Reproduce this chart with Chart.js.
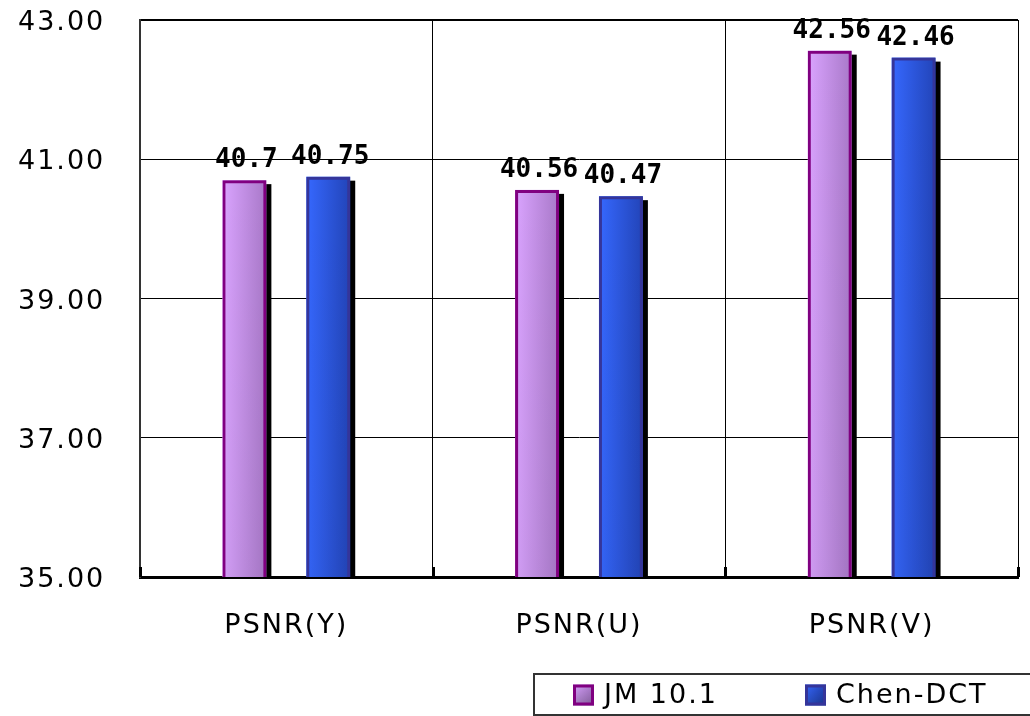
<!DOCTYPE html>
<html>
<head>
<meta charset="utf-8">
<script src="https://cdn.jsdelivr.net/npm/chart.js@4.4.1/dist/chart.umd.min.js"></script>
<style>
  html, body { margin: 0; padding: 0; background: #fff; }
  #wrap { width: 1030px; height: 716px; }
</style>
</head>
<body>
<div id="wrap"><canvas id="psnr" width="1030" height="716"></canvas></div>
<script>
// PSNR comparison: JM 10.1 reference encoder vs. Chen-DCT
const categories = ['PSNR(Y)', 'PSNR(U)', 'PSNR(V)'];
const seriesNames = ['JM 10.1', 'Chen-DCT'];
const jmValues = [40.7, 40.56, 42.56];
const chenValues = [40.75, 40.47, 42.46];
const yTickValues = [35, 37, 39, 41, 43];

// per-series look: light / dark end of the fill gradient, plus outline colour
const seriesStyles = [
  { light: '#daa4ff', dark: '#a878c8', border: '#800080' },
  { light: '#3668ff', dark: '#2244b8', border: '#35359a' }
];

const FONT = 'DejaVu Sans';

function fillGradient(ctx, left, top, width, height, style) {
  const h = ctx.createLinearGradient(left, 0, left + width, 0);
  h.addColorStop(0, style.light);
  h.addColorStop(1, style.dark);
  ctx.fillStyle = h;
  ctx.fillRect(left, top, width, height);
  const v = ctx.createLinearGradient(0, top, 0, top + height);
  v.addColorStop(0, 'rgba(0,0,0,0)');
  v.addColorStop(1, 'rgba(0,0,0,0.26)');
  ctx.fillStyle = v;
  ctx.fillRect(left, top, width, height);
}

// spaced-out lettering used by the axis text and legend
const letterSpacingPlugin = {
  id: 'letterSpacing',
  beforeUpdate(chart) { chart.ctx.letterSpacing = '2px'; },
  beforeDraw(chart) { chart.ctx.letterSpacing = '2px'; }
};

// drop shadow and shaded fill behind every bar; the bar element draws its outline on top
const barShading = {
  id: 'barShading',
  beforeDatasetsDraw(chart) {
    const ctx = chart.ctx;
    const area = chart.chartArea;
    ctx.save();
    ctx.beginPath();
    ctx.rect(area.left, area.top, area.right - area.left + 8, area.bottom - area.top);
    ctx.clip();
    chart.data.datasets.forEach((ds, di) => {
      const meta = chart.getDatasetMeta(di);
      const style = seriesStyles[di];
      meta.data.forEach(el => {
        const { x, y, base, width } = el.getProps(['x', 'y', 'base', 'width'], true);
        const left = x - width / 2;
        ctx.fillStyle = '#000';
        ctx.fillRect(left + 5, y + 4, width, base - y - 4);
        fillGradient(ctx, left, y, width, base - y, style);
      });
    });
    ctx.restore();
  },
  afterDatasetsDraw(chart) {
    const ctx = chart.ctx;
    ctx.save();
    ctx.letterSpacing = '0px';
    ctx.font = `bold 26px "DejaVu Sans Mono", "${FONT}"`;
    ctx.fillStyle = '#000';
    ctx.textAlign = 'center';
    ctx.textBaseline = 'alphabetic';
    chart.data.datasets.forEach((ds, di) => {
      const meta = chart.getDatasetMeta(di);
      meta.data.forEach((el, i) => {
        const { x, y } = el.getProps(['x', 'y'], true);
        ctx.fillText(String(ds.data[i]), x + 2, y - 13);
      });
    });
    ctx.restore();
  }
};

// short inner tick marks where the vertical grid lines meet the category axis
const axisTicks = {
  id: 'axisTicks',
  afterDraw(chart) {
    const xs = chart.scales.x;
    const ctx = chart.ctx;
    const step = xs.width / categories.length;
    ctx.save();
    ctx.strokeStyle = '#000';
    ctx.lineWidth = 3;
    for (let i = 0; i <= categories.length; i++) {
      const px = Math.round(xs.left + i * step) + 0.5;
      ctx.beginPath();
      ctx.moveTo(px, xs.top - 10);
      ctx.lineTo(px, xs.top);
      ctx.stroke();
    }
    ctx.restore();
  }
};

// boxed legend in the bottom-right corner
const boxedLegend = {
  id: 'boxedLegend',
  afterDraw(chart) {
    const ctx = chart.ctx;
    const top = chart.height - 43;
    const left = 533;
    ctx.save();
    ctx.letterSpacing = '2px';
    ctx.fillStyle = '#fff';
    ctx.fillRect(left, top, chart.width - left + 10, 42);
    ctx.strokeStyle = '#333';
    ctx.lineWidth = 2;
    ctx.strokeRect(left + 1, top + 1, chart.width - left + 10, 41);
    const midY = top + 22;
    const itemX = [573, 805];
    ctx.font = `27px "${FONT}"`;
    ctx.textBaseline = 'middle';
    ctx.textAlign = 'left';
    chart.data.datasets.forEach((ds, di) => {
      const style = seriesStyles[di];
      const sx = itemX[di];
      const size = 21;
      fillGradient(ctx, sx, midY - size / 2, size, size, style);
      ctx.strokeStyle = style.border;
      ctx.lineWidth = 3;
      ctx.strokeRect(sx + 1.5, midY - size / 2 + 1.5, size - 3, size - 3);
      ctx.fillStyle = '#000';
      ctx.fillText(ds.label, sx + size + 10, midY + 1);
    });
    ctx.restore();
  }
};

const tickFont = { family: FONT, size: 27 };

new Chart(document.getElementById('psnr'), {
  type: 'bar',
  data: {
    labels: categories,
    datasets: [
      {
        label: seriesNames[0],
        data: jmValues,
        backgroundColor: 'rgba(0,0,0,0)',
        borderColor: seriesStyles[0].border,
        borderWidth: 3,
        borderSkipped: false
      },
      {
        label: seriesNames[1],
        data: chenValues,
        backgroundColor: 'rgba(0,0,0,0)',
        borderColor: seriesStyles[1].border,
        borderWidth: 3,
        borderSkipped: false
      }
    ]
  },
  options: {
    responsive: false,
    animation: false,
    events: [],
    categoryPercentage: 0.573,
    barPercentage: 0.524,
    layout: { padding: { left: 18, top: 20, right: 12, bottom: 43 } },
    plugins: {
      legend: { display: false },
      tooltip: { enabled: false }
    },
    scales: {
      x: {
        grid: {
          offset: true,
          color: '#000',
          lineWidth: c => (c.index === categories.length ? 2 : 1),
          drawTicks: false
        },
        border: { display: true, color: '#000', width: 3 },
        ticks: { font: tickFont, color: '#000', padding: 33 },
        afterFit(scale) { scale.height = 96; }
      },
      y: {
        min: yTickValues[0],
        max: yTickValues[yTickValues.length - 1],
        afterBuildTicks(scale) { scale.ticks = yTickValues.map(v => ({ value: v })); },
        grid: {
          color: '#000',
          lineWidth: c => (c.tick && c.tick.value === yTickValues[yTickValues.length - 1] ? 2 : 1),
          drawTicks: false
        },
        border: { display: true, color: '#333', width: 2 },
        ticks: {
          font: tickFont,
          color: '#000',
          padding: 0,
          crossAlign: 'far',
          labelOffset: 3,
          callback: v => Number(v).toFixed(2)
        },
        afterFit(scale) { scale.width = 122; }
      }
    }
  },
  plugins: [letterSpacingPlugin, barShading, axisTicks, boxedLegend]
});
</script>
</body>
</html>
